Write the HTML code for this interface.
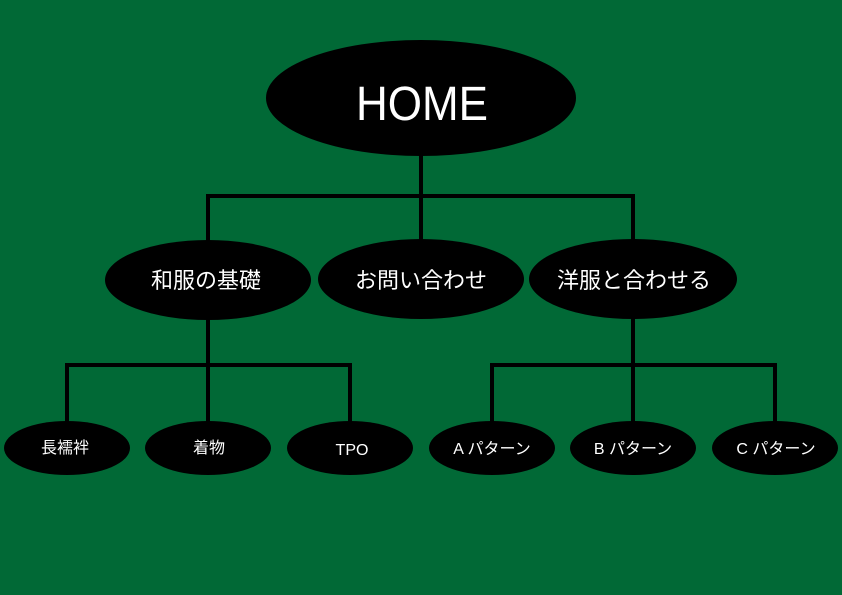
<!DOCTYPE html><html><head><meta charset="utf-8"><style>html,body{margin:0;padding:0;background:#016936}</style></head><body>
<svg width="842" height="595" viewBox="0 0 842 595" xmlns="http://www.w3.org/2000/svg" style="display:block">
<rect width="842" height="595" fill="#016936"/>
<g stroke="#000" stroke-width="4" fill="none">
<path d="M421 150V196M208 196H633M208 194V242M421 194V242M633 194V242"/>
<path d="M208 318V365M67 365H350M67 363V423M208 363V423M350 363V423"/>
<path d="M633 318V365M492 365H775M492 363V423M633 363V423M775 363V423"/>
</g>
<g fill="#000">
<ellipse cx="421" cy="98" rx="155" ry="58"/>
<ellipse cx="208" cy="280" rx="103" ry="40"/>
<ellipse cx="421" cy="279" rx="103" ry="40"/>
<ellipse cx="633" cy="279" rx="104" ry="40"/>
<ellipse cx="67" cy="448" rx="63" ry="27"/>
<ellipse cx="208" cy="448" rx="63" ry="27"/>
<ellipse cx="350" cy="448" rx="63" ry="27"/>
<ellipse cx="492" cy="448" rx="63" ry="27"/>
<ellipse cx="633" cy="448" rx="63" ry="27"/>
<ellipse cx="775" cy="448" rx="63" ry="27"/>
</g>
<g fill="#fff" text-anchor="middle" font-family="'Liberation Sans','Noto Sans CJK JP',sans-serif">
<text x="422" y="120" font-size="48" textLength="132" lengthAdjust="spacingAndGlyphs">HOME</text>
<text x="206" y="288" font-size="22">和服の基礎</text>
<text x="421" y="288" font-size="22">お問い合わせ</text>
<text x="634" y="288" font-size="22">洋服と合わせる</text>
<text x="65" y="453" font-size="16">長襦袢</text>
<text x="209" y="453" font-size="16">着物</text>
<text x="352" y="455" font-size="16">TPO</text>
<text x="492" y="454" font-size="16">A パターン</text>
<text x="633" y="454" font-size="16">B パターン</text>
<text x="776" y="454" font-size="16">C パターン</text>
</g>
</svg></body></html>
